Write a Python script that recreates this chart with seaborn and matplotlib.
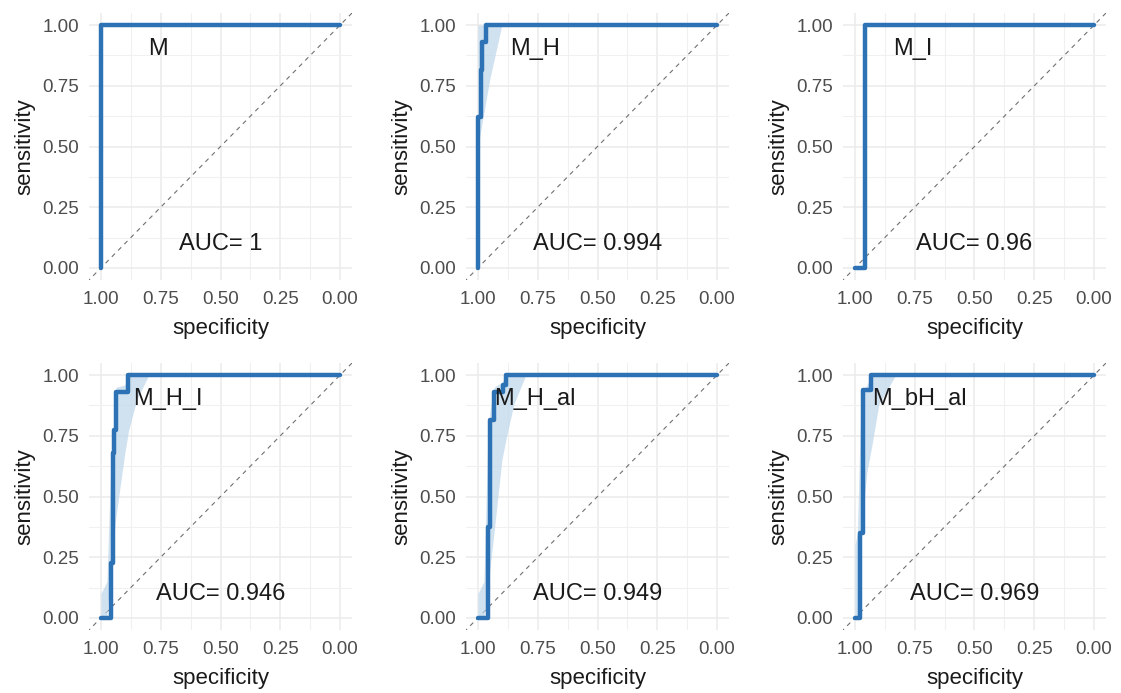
import numpy as np
import pandas as pd
import seaborn as sns
import matplotlib.pyplot as plt

# ROC step curves (specificity, sensitivity)
models = ["M", "M_H", "M_I", "M_H_I", "M_H_al", "M_bH_al"]
auc_text = ["1", "0.994", "0.96", "0.946", "0.949", "0.969"]

spec_M = [1.0, 1.0, 0.0]
sens_M = [0.0, 1.0, 1.0]
spec_M_H = [1.0, 1.0, 0.989, 0.989, 0.983, 0.983, 0.966, 0.966, 0.0]
sens_M_H = [0.0, 0.623, 0.623, 0.815, 0.815, 0.93, 0.93, 1.0, 1.0]
spec_M_I = [1.0, 0.96, 0.96, 0.0]
sens_M_I = [0.0, 0.0, 1.0, 1.0]
spec_M_H_I = [1.0, 0.958, 0.958, 0.951, 0.951, 0.946, 0.946, 0.937, 0.937, 0.885, 0.885, 0.0]
sens_M_H_I = [0.0, 0.0, 0.225, 0.225, 0.678, 0.678, 0.774, 0.774, 0.93, 0.93, 1.0, 1.0]
spec_M_H_al = [1.0, 0.957, 0.957, 0.951, 0.951, 0.933, 0.933, 0.894, 0.894, 0.882, 0.882, 0.0]
sens_M_H_al = [0.0, 0.0, 0.376, 0.376, 0.815, 0.815, 0.93, 0.93, 0.96, 0.96, 1.0, 1.0]
spec_M_bH_al = [1.0, 0.977, 0.977, 0.968, 0.968, 0.931, 0.931, 0.0]
sens_M_bH_al = [0.0, 0.0, 0.35, 0.35, 0.938, 0.938, 1.0, 1.0]

# confidence bands for sensitivity
ci_spec_M_H = [1.0, 0.95, 0.9]
ci_lo_M_H = [0.5, 0.78, 1.0]
ci_hi_M_H = [1.0, 1.0, 1.0]
ci_spec_M_H_I = [1.0, 0.975, 0.96, 0.95, 0.937, 0.9, 0.885, 0.85, 0.8]
ci_lo_M_H_I = [0.0, 0.0, 0.2, 0.3, 0.42, 0.68, 0.77, 0.9, 1.0]
ci_hi_M_H_I = [0.1, 0.15, 0.6, 0.75, 0.95, 0.96, 1.0, 1.0, 1.0]
ci_spec_M_H_al = [1.0, 0.975, 0.96, 0.95, 0.933, 0.9, 0.882, 0.85, 0.8]
ci_lo_M_H_al = [0.0, 0.0, 0.1, 0.2, 0.35, 0.65, 0.74, 0.88, 1.0]
ci_hi_M_H_al = [0.1, 0.15, 0.7, 0.85, 0.95, 0.97, 1.0, 1.0, 1.0]
ci_spec_M_bH_al = [1.0, 0.99, 0.975, 0.95, 0.931, 0.9, 0.83]
ci_lo_M_bH_al = [0.0, 0.0, 0.35, 0.6, 0.7, 0.88, 1.0]
ci_hi_M_bH_al = [0.3, 0.35, 0.9, 0.96, 1.0, 1.0, 1.0]

curves = [(spec_M, sens_M), (spec_M_H, sens_M_H), (spec_M_I, sens_M_I),
          (spec_M_H_I, sens_M_H_I), (spec_M_H_al, sens_M_H_al), (spec_M_bH_al, sens_M_bH_al)]
bands = [None, (ci_spec_M_H, ci_lo_M_H, ci_hi_M_H), None,
         (ci_spec_M_H_I, ci_lo_M_H_I, ci_hi_M_H_I),
         (ci_spec_M_H_al, ci_lo_M_H_al, ci_hi_M_H_al),
         (ci_spec_M_bH_al, ci_lo_M_bH_al, ci_hi_M_bH_al)]
label_x = [0.76, 0.76, 0.76, 0.72, 0.76, 0.73]

sns.set_theme(style="whitegrid")
plt.rcParams['font.family'] = ['Liberation Sans', 'DejaVu Sans']

line_col = "#2C72B4"
fig = plt.figure(figsize=(11.21, 6.93), dpi=100)
W, H = 1121, 693
lefts = [89, 466, 843]
tops = [13, 363]

for i, name in enumerate(models):
    r, c = divmod(i, 3)
    ax = fig.add_axes([lefts[c] / W, 1 - (tops[r] + 267) / H, 263 / W, 267 / H])
    ax.set_facecolor("white")
    for s in ax.spines.values():
        s.set_visible(False)
    ax.set_xlim(1.05, -0.05)
    ax.set_ylim(-0.05, 1.05)
    ticks = [0, 0.25, 0.5, 0.75, 1.0]
    ax.set_xticks(ticks)
    ax.set_yticks(ticks)
    ax.set_xticklabels(["%.2f" % t for t in ticks])
    ax.set_yticklabels(["%.2f" % t for t in ticks])
    ax.set_xticks(np.arange(0.125, 1, 0.25), minor=True)
    ax.set_yticks(np.arange(0.125, 1, 0.25), minor=True)
    ax.grid(which="major", color="#EBEBEB", lw=1.1)
    ax.grid(which="minor", color="#F0F0F0", lw=0.8)
    ax.tick_params(which="both", length=0, labelsize=13.5, labelcolor="#4D4D4D")
    ax.tick_params(axis="y", pad=7)
    ax.tick_params(axis="x", pad=8)

    ax.axline((1, 0), (0, 1), color="#707070", lw=0.8, ls=(0, (4, 4)), zorder=1)

    band = bands[i]
    if band is not None:
        ax.fill_between(band[0], band[1], band[2], color="#BDD5EA", alpha=0.7, lw=0, zorder=2)

    df = pd.DataFrame({"specificity": curves[i][0], "sensitivity": curves[i][1]})
    sns.lineplot(data=df, x="specificity", y="sensitivity", sort=False, estimator=None,
                 color=line_col, lw=3.2, ax=ax, zorder=3)
    ax.set_xlabel("specificity", fontsize=16, labelpad=7, color="#1A1A1A")
    ax.set_ylabel("sensitivity", fontsize=16, labelpad=5, color="#1A1A1A")

    ax.text(label_x[i], 0.9, name, ha="center", va="center", fontsize=17, zorder=5, color="#1A1A1A")
    ax.text(0.5, 0.1, "AUC= " + auc_text[i], ha="center", va="center", fontsize=17, zorder=5,
            color="#1A1A1A")

plt.savefig("out.png", dpi=100)
